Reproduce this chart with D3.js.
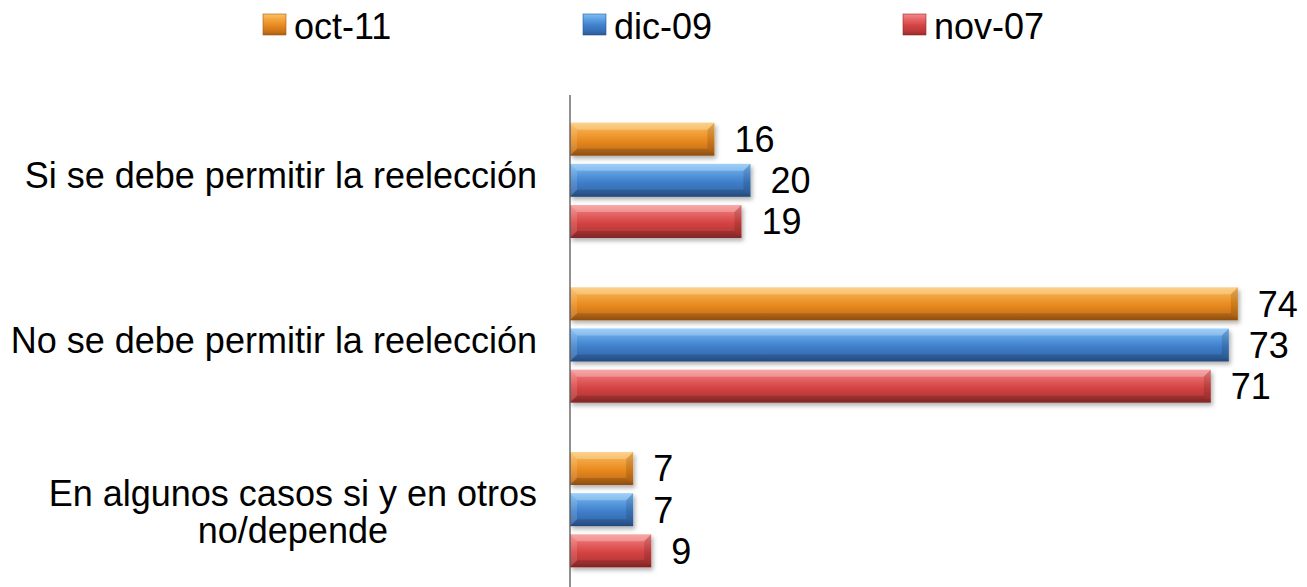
<!DOCTYPE html>
<html>
<head>
<meta charset="utf-8">
<script src="https://cdnjs.cloudflare.com/ajax/libs/d3/7.8.5/d3.min.js"></script>
<style>
  body { margin: 0; background: #fff; }
  text { font-family: "Liberation Sans", Arial, sans-serif; fill: #000; }
</style>
</head>
<body>
<div id="chart"></div>
<script>
// data
const categories = ["Si se debe permitir la reelección", "No se debe permitir la reelección", "En algunos casos si y en otros no/depende"];
const series = ["oct-11", "dic-09", "nov-07"];
const oct11 = [16, 74, 7];
const dic09 = [20, 73, 7];
const nov07 = [19, 71, 9];
const values = [oct11, dic09, nov07];

// light / base / dark tones for each series
const colors = {
  "oct-11": ["#fcc261", "#e8891f", "#a65b12"],
  "dic-09": ["#7cc0f7", "#3f7fcb", "#2a5690"],
  "nov-07": ["#f78a8a", "#d44343", "#962a2a"]
};

const width = 1307, height = 587;
const svg = d3.select("#chart").append("svg")
  .attr("width", width)
  .attr("height", height);

const defs = svg.append("defs");
defs.append("filter").attr("id", "shadow")
  .attr("x", "-5%").attr("y", "-30%").attr("width", "115%").attr("height", "180%")
  .append("feDropShadow")
  .attr("dx", 2).attr("dy", 3).attr("stdDeviation", 2)
  .attr("flood-color", "#000").attr("flood-opacity", 0.3);

series.forEach((s, i) => {
  const c = colors[s];
  const g = defs.append("linearGradient").attr("id", "grad" + i)
    .attr("x1", 0).attr("y1", 0).attr("x2", 0).attr("y2", 1);
  g.append("stop").attr("offset", "0%").attr("stop-color", c[0]);
  g.append("stop").attr("offset", "25%").attr("stop-color", d3.interpolateRgb(c[0], c[1])(0.5));
  g.append("stop").attr("offset", "55%").attr("stop-color", c[1]);
  g.append("stop").attr("offset", "85%").attr("stop-color", d3.interpolateRgb(c[1], c[2])(0.5));
  g.append("stop").attr("offset", "100%").attr("stop-color", c[2]);
});

// scales
const x = d3.scaleLinear().domain([0, 80]).range([570, 1292]);
const y = d3.scaleBand().domain(categories).range([98, 592])
  .paddingInner(0.3).paddingOuter(0.15);
const ySub = d3.scaleBand().domain(series).range([0, y.bandwidth()])
  .paddingInner(0.2);

const rows = [];
categories.forEach((cat, ci) => {
  series.forEach((s, si) => rows.push({ cat, s, si, v: values[si][ci] }));
});

const bev = 7;
const bar = svg.append("g").selectAll("g")
  .data(rows).enter().append("g")
  .attr("transform", d => `translate(${x(0)},${y(d.cat) + ySub(d.s)})`);

bar.append("rect")
  .attr("width", d => x(d.v) - x(0))
  .attr("height", ySub.bandwidth())
  .attr("fill", d => `url(#grad${d.si})`)
  .attr("filter", "url(#shadow)");

// bevel: lighter top edge, darker bottom and right edge
bar.append("path")
  .attr("d", d => {
    const w = x(d.v) - x(0);
    return `M0,0H${w}L${w - bev},${bev}H${bev}Z`;
  })
  .attr("fill", "#fff").attr("opacity", 0.25);
bar.append("path")
  .attr("d", d => {
    const w = x(d.v) - x(0), h = ySub.bandwidth();
    return `M0,${h}H${w}L${w - bev},${h - bev}H${bev}Z`;
  })
  .attr("fill", "#000").attr("opacity", 0.15);
bar.append("path")
  .attr("d", d => {
    const w = x(d.v) - x(0), h = ySub.bandwidth();
    return `M${w},0V${h}L${w - bev},${h - bev}V${bev}Z`;
  })
  .attr("fill", "#000").attr("opacity", 0.12);
bar.append("path")
  .attr("d", d => {
    const h = ySub.bandwidth();
    return `M0,0V${h}L${bev},${h - bev}V${bev}Z`;
  })
  .attr("fill", "#fff").attr("opacity", 0.12);

// value labels
svg.append("g").selectAll("text")
  .data(rows).enter().append("text")
  .attr("x", d => x(d.v) + 20)
  .attr("y", d => y(d.cat) + ySub(d.s) + ySub.bandwidth() / 2)
  .attr("dy", "0.36em")
  .style("font-size", "36px")
  .text(d => d.v);

// vertical axis line
svg.append("line")
  .attr("x1", x(0)).attr("x2", x(0))
  .attr("y1", 95).attr("y2", height)
  .attr("stroke", "#555").attr("stroke-width", 1.3);

// category labels (wrapped one is centred as a block)
const catLines = {
  "En algunos casos si y en otros no/depende": ["En algunos casos si y en otros", "no/depende"]
};
const labelRight = 537;
const lineH = 37;
categories.forEach(cat => {
  const cy = y(cat) + y.bandwidth() / 2;
  const lines = catLines[cat] || [cat];
  const t = svg.append("text").style("font-size", "36px");
  const off = lines.length === 1 ? 8 : 15;
  lines.forEach((ln, i) => {
    t.append("tspan").attr("y", cy + off + (i - (lines.length - 1) / 2) * lineH).text(ln);
  });
  if (lines.length === 1) {
    t.attr("text-anchor", "end").selectAll("tspan").attr("x", labelRight);
  } else {
    const maxW = d3.max(t.selectAll("tspan").nodes(), n => n.getComputedTextLength());
    t.attr("text-anchor", "middle").selectAll("tspan").attr("x", labelRight - maxW / 2);
  }
});

// legend
const legend = svg.append("g").selectAll("g")
  .data(series).enter().append("g")
  .attr("transform", (d, i) => `translate(${263 + i * 320},14)`);
legend.append("rect")
  .attr("width", 23).attr("height", 21)
  .attr("fill", (d, i) => `url(#grad${i})`)
  .attr("stroke", d => colors[d][2]).attr("stroke-width", 0.6);
legend.append("text")
  .attr("x", 31).attr("y", 25)
  .style("font-size", "36px")
  .text(d => d);
</script>
</body>
</html>
